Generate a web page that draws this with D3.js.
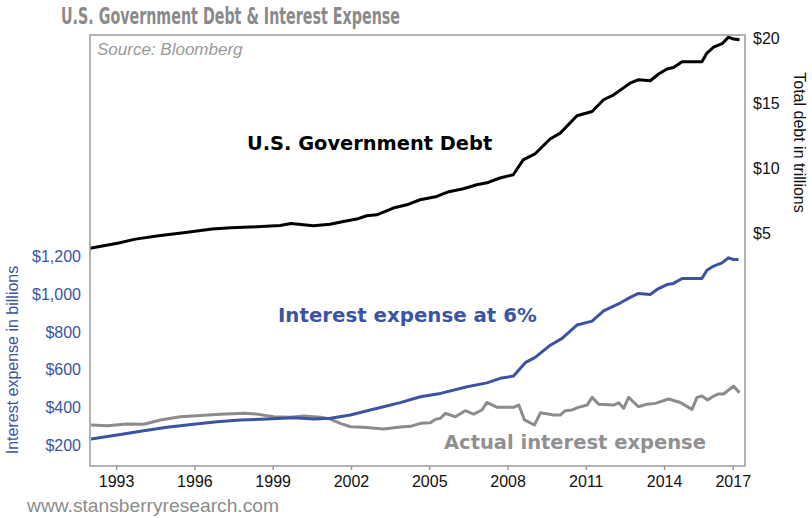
<!DOCTYPE html>
<html>
<head>
<meta charset="utf-8">
<script src="https://cdn.jsdelivr.net/npm/d3@7"></script>
<style>
  html, body { margin: 0; padding: 0; background: #fff; }
  svg { display: block; }
</style>
</head>
<body>
<svg id="chart" width="812" height="518"></svg>
<script>
// Total U.S. government debt, trillions of dollars (year as decimal)
const debtYears = [1992.00, 1993.10, 1993.74, 1994.63, 1995.66, 1996.68, 1997.40, 1998.40,
  1999.28, 1999.70, 2000.56, 2001.20, 2001.71, 2002.22, 2002.60, 2002.99, 2003.62, 2004.14,
  2004.65, 2005.29, 2005.75, 2006.31, 2006.82, 2007.26, 2007.71, 2008.22, 2008.60, 2009.05,
  2009.63, 2010.02, 2010.66, 2011.24, 2011.68, 2012.07, 2012.70, 2013.02, 2013.47, 2013.79,
  2014.11, 2014.36, 2014.69, 2015.45, 2015.64, 2015.90, 2016.22, 2016.47, 2016.66, 2016.89];
const debtTrillions = [3.85, 4.25, 4.55, 4.81, 5.06, 5.32, 5.42, 5.50,
  5.60, 5.75, 5.58, 5.70, 5.91, 6.09, 6.35, 6.42, 6.94, 7.19,
  7.58, 7.83, 8.20, 8.42, 8.73, 8.91, 9.25, 9.50, 10.65, 11.10,
  12.25, 12.70, 14.04, 14.37, 15.27, 15.65, 16.55, 16.81, 16.73, 17.25,
  17.63, 17.75, 18.19, 18.19, 18.86, 19.32, 19.58, 20.09, 19.94, 19.88];

// Interest expense if the debt carried a 6% rate, billions of dollars
const sixPctYears = [1992.04, 1993.04, 1994.06, 1994.95, 1995.97, 1996.87, 1997.76, 1998.79,
  1999.80, 2000.57, 2001.21, 2001.98, 2002.62, 2003.25, 2003.89, 2004.66, 2005.43, 2006.45,
  2007.21, 2007.72, 2008.23, 2008.68, 2009.06, 2009.64, 2010.09, 2010.66, 2011.24, 2011.68,
  2012.33, 2012.70, 2013.02, 2013.47, 2013.73, 2014.11, 2014.36, 2014.69, 2015.45, 2015.64,
  2015.90, 2016.22, 2016.47, 2016.66, 2016.85];
const sixPctBillions = [232, 253, 276, 294, 310, 324, 333, 338,
  345, 338, 342, 359, 382, 403, 425, 456, 474, 509,
  530, 554, 566, 637, 665, 730, 766, 837, 858, 912,
  955, 984, 1005, 999, 1026, 1052, 1058, 1084, 1084, 1128,
  1150, 1167, 1194, 1185, 1185];

// Actual federal interest expense, billions of dollars
const actualYears = [1992.04, 1992.66, 1993.42, 1994.06, 1994.70, 1995.46, 1996.23, 1996.99,
  1997.89, 1998.40, 1999.04, 1999.68, 2000.19, 2000.83, 2001.21, 2001.59, 2001.98, 2002.49,
  2003.25, 2003.89, 2004.28, 2004.66, 2005.04, 2005.23, 2005.43, 2005.62, 2006.00, 2006.38,
  2006.70, 2007.02, 2007.21, 2007.60, 2008.23, 2008.43, 2008.65, 2009.03, 2009.26, 2009.77,
  2010.02, 2010.21, 2010.47, 2010.72, 2011.05, 2011.24, 2011.49, 2012.07, 2012.26, 2012.45,
  2012.64, 2013.02, 2013.34, 2013.66, 2014.17, 2014.62, 2015.07, 2015.26, 2015.45, 2015.67,
  2015.90, 2016.09, 2016.28, 2016.66, 2016.89];
const actualBillions = [306, 302, 311, 310, 333, 350, 356, 363,
  368, 364, 350, 347, 354, 347, 338, 315, 297, 294,
  285, 296, 299, 315, 318, 336, 342, 368, 350, 382,
  364, 386, 426, 400, 400, 412, 333, 306, 371, 359,
  359, 382, 386, 400, 412, 453, 417, 412, 424, 395,
  453, 403, 417, 421, 444, 426, 389, 453, 460, 439,
  460, 471, 471, 513, 477];

// Axis ticks
const yearTicks = [1993, 1996, 1999, 2002, 2005, 2008, 2011, 2014, 2016.63];
const yearTickLabels = ["1993", "1996", "1999", "2002", "2005", "2008", "2011", "2014", "2017"];
const interestTicks = [200, 400, 600, 800, 1000, 1200];
const debtTicks = [5, 10, 15, 20];

const BLUE = "#3c53a4";
const GREY = "#8c8c8c";

const svg = d3.select("#chart");
const plot = { left: 90, right: 745, top: 35, bottom: 466 };

const x = d3.scaleLinear().domain([1992.0, 2017.1]).range([plot.left, plot.right]);
const yInterest = d3.scaleLinear().domain([88.5, 2377]).range([plot.bottom, plot.top]);
const yDebt = d3.scaleLinear().domain([-12.9, 20.25]).range([plot.bottom, plot.top]);

// Title
svg.append("text")
  .attr("x", 61).attr("y", 24)
  .attr("textLength", 339).attr("lengthAdjust", "spacingAndGlyphs")
  .style("font-family", "'DejaVu Sans Condensed', 'DejaVu Sans', sans-serif")
  .style("font-weight", "bold").style("font-size", "22.5px")
  .style("fill", "#8a8a8a")
  .text("U.S. Government Debt & Interest Expense");

// Bottom axis with short outward ticks
const xAxis = d3.axisBottom(x)
  .tickValues(yearTicks)
  .tickFormat((d, i) => yearTickLabels[i])
  .tickSize(4).tickSizeOuter(0).tickPadding(6);
const gx = svg.append("g").attr("transform", `translate(0,${plot.bottom})`).call(xAxis);
gx.select(".domain").remove();
gx.selectAll(".tick line").attr("stroke", "#9a9a9a").attr("stroke-width", 1.5);
gx.selectAll(".tick text")
  .style("font-family", "'Liberation Sans', Arial, sans-serif")
  .style("font-size", "16px").style("fill", "#111");

// Left axis: interest expense
const yLeftAxis = d3.axisLeft(yInterest)
  .tickValues(interestTicks)
  .tickFormat(d => "$" + d3.format(",")(d))
  .tickSize(0).tickPadding(9);
const gl = svg.append("g").attr("transform", `translate(${plot.left},0)`).call(yLeftAxis);
gl.select(".domain").remove();
gl.selectAll(".tick text")
  .style("font-family", "'Liberation Sans', Arial, sans-serif")
  .style("font-size", "16px").style("fill", BLUE);

// Right axis: total debt
const yRightAxis = d3.axisRight(yDebt)
  .tickValues(debtTicks)
  .tickFormat(d => "$" + d)
  .tickSize(0).tickPadding(8);
const gr = svg.append("g").attr("transform", `translate(${plot.right},0)`).call(yRightAxis);
gr.select(".domain").remove();
gr.selectAll(".tick text")
  .style("font-family", "'Liberation Sans', Arial, sans-serif")
  .style("font-size", "16px").style("fill", "#111");

// Axis titles
svg.append("text")
  .attr("transform", `translate(18,${(263 + 457) / 2}) rotate(-90)`)
  .attr("text-anchor", "middle")
  .style("font-family", "'Liberation Sans', Arial, sans-serif")
  .style("font-size", "16px").style("fill", BLUE)
  .text("Interest expense in billions");

svg.append("text")
  .attr("transform", `translate(794,${(70 + 215) / 2}) rotate(90)`)
  .attr("text-anchor", "middle")
  .style("font-family", "'Liberation Sans', Arial, sans-serif")
  .style("font-size", "16px").style("fill", "#111")
  .text("Total debt in trillions");

// Source note
svg.append("text")
  .attr("x", 97).attr("y", 55)
  .style("font-family", "'Liberation Sans', Arial, sans-serif")
  .style("font-style", "italic").style("font-size", "17px")
  .style("fill", "#9a9a9a")
  .text("Source: Bloomberg");

// Lines
const pairs = (xs, ys) => xs.map((d, i) => [d, ys[i]]);

const lineActual = d3.line().x(d => x(d[0])).y(d => yInterest(d[1]));
const lineSix = d3.line().x(d => x(d[0])).y(d => yInterest(d[1]));
const lineDebt = d3.line().x(d => x(d[0])).y(d => yDebt(d[1]));

svg.append("path")
  .datum(pairs(actualYears, actualBillions))
  .attr("d", lineActual)
  .attr("fill", "none").attr("stroke", GREY).attr("stroke-width", 3)
  .attr("stroke-linejoin", "round");

svg.append("path")
  .datum(pairs(sixPctYears, sixPctBillions))
  .attr("d", lineSix)
  .attr("fill", "none").attr("stroke", BLUE).attr("stroke-width", 3)
  .attr("stroke-linejoin", "round");

svg.append("path")
  .datum(pairs(debtYears, debtTrillions))
  .attr("d", lineDebt)
  .attr("fill", "none").attr("stroke", "#000").attr("stroke-width", 3)
  .attr("stroke-linejoin", "round");

// Plot frame
svg.append("rect")
  .attr("x", plot.left).attr("y", plot.top)
  .attr("width", plot.right - plot.left).attr("height", plot.bottom - plot.top)
  .attr("fill", "none").attr("stroke", "#9a9a9a").attr("stroke-width", 1.5);

// Series labels
const labelFont = "'DejaVu Sans', Verdana, sans-serif";
svg.append("text")
  .attr("x", 247).attr("y", 150)
  .style("font-family", labelFont).style("font-weight", "bold").style("font-size", "19.4px")
  .style("fill", "#000")
  .text("U.S. Government Debt");

svg.append("text")
  .attr("x", 278).attr("y", 322)
  .style("font-family", labelFont).style("font-weight", "bold").style("font-size", "19.8px")
  .style("fill", BLUE)
  .text("Interest expense at 6%");

svg.append("text")
  .attr("x", 444).attr("y", 449)
  .style("font-family", labelFont).style("font-weight", "bold").style("font-size", "19.5px")
  .style("fill", "#909090")
  .text("Actual interest expense");

// Footer
svg.append("text")
  .attr("x", 27).attr("y", 512)
  .attr("textLength", 252).attr("lengthAdjust", "spacingAndGlyphs")
  .style("font-family", "'Liberation Sans', Arial, sans-serif")
  .style("font-size", "18px").style("fill", "#8c8c8c")
  .text("www.stansberryresearch.com");
</script>
</body>
</html>
